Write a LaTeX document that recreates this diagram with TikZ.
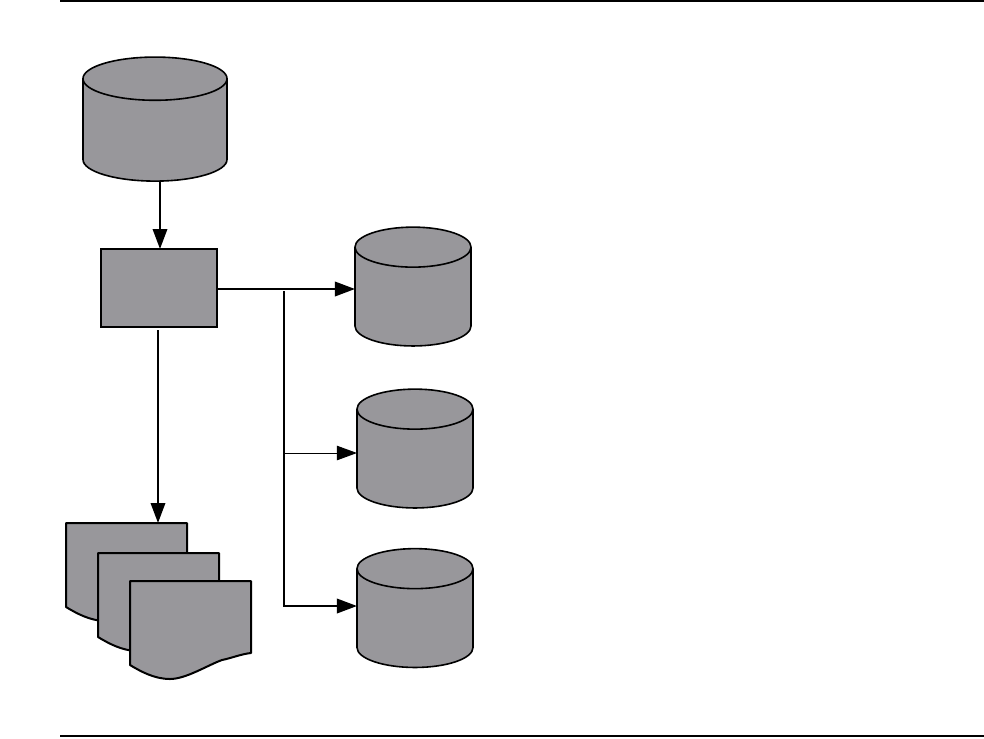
\documentclass[tikz,border=0pt]{standalone}
\usepackage{xcolor}
\usetikzlibrary{shapes.geometric,arrows.meta,positioning,calc}
\definecolor{boxgray}{HTML}{98979B}
% one page of the stack, #1 = top left corner
\newcommand{\docsheet}[1]{
  \draw[sheet] (#1) -- ++(121,0) -- ++(0,72)
    .. controls +(-10,1) and +(10,-2) .. ++(-29,7)
    .. controls +(-14,5) and +(16,0) .. ++(-52,19)
    .. controls +(-16,0) and +(10,6) .. ++(-40,-14) -- cycle;
}
\begin{document}
\begin{tikzpicture}[
  x=0.025cm,y=-0.025cm,
  db/.style={cylinder,shape border rotate=90,draw=black,line width=0.04cm,
             fill=boxgray,minimum width=2.9cm,minimum height=2.97cm,
             aspect=1,inner sep=0.5cm,outer sep=0pt},
  box/.style={rectangle,draw=black,line width=0.04cm,fill=boxgray,
              minimum width=2.9cm,minimum height=1.95cm,inner sep=0pt,outer sep=0pt},
  sheet/.style={draw=black,line width=0.05cm,fill=boxgray,line join=round},
  rule/.style={line width=0.05cm},
  arrow/.style={-{Triangle[length=0.5cm,width=0.36cm]},line width=0.055cm},
  thinarrow/.style={arrow,line width=0.025cm}
]
\useasboundingbox (0,0) rectangle (984,738);

\node[db,minimum width=3.6cm,minimum height=3.1cm,inner sep=0.54cm] (dbsource) at (155,138) {};
\node[box] (filter) at (159,288) {};
\node[db] (dbtop) at (413,304.5) {};
\node[db] (dbmid) at (415,466.5) {};
\node[db] (dblow) at (415,626) {};

% the stacked pages
\docsheet{66,523}
\docsheet{98,553}
\docsheet{130,581}
\coordinate (doctop) at (158,523);

% rules along the page
\coordinate (ruleaL) at (60,1);
\coordinate (ruleaR) at (984,1);
\coordinate (rulebL) at (60,736);
\coordinate (rulebR) at (984,736);
\draw[rule] (ruleaL) -- (ruleaR);
\draw[rule] (rulebL) -- (rulebR);

\coordinate (srcout) at (160,181);
\coordinate (filterin) at (160,249);
\coordinate (filterout) at (217,289);
\coordinate (filterlow) at (158,330);
\coordinate (branch) at (284,291);
\coordinate (branchmid) at (284,453);
\coordinate (branchlow) at (284,606);

\draw[arrow] (srcout) -- (filterin);
\draw[arrow] (filterout) -- (filterout -| dbtop.west);
\draw[arrow] (filterlow) -- (doctop);
\draw[arrow] (branch) -- (branchlow) -- (branchlow -| dblow.west);
\draw[thinarrow] (branchmid) -- (branchmid -| dbmid.west);
\end{tikzpicture}
\end{document}
